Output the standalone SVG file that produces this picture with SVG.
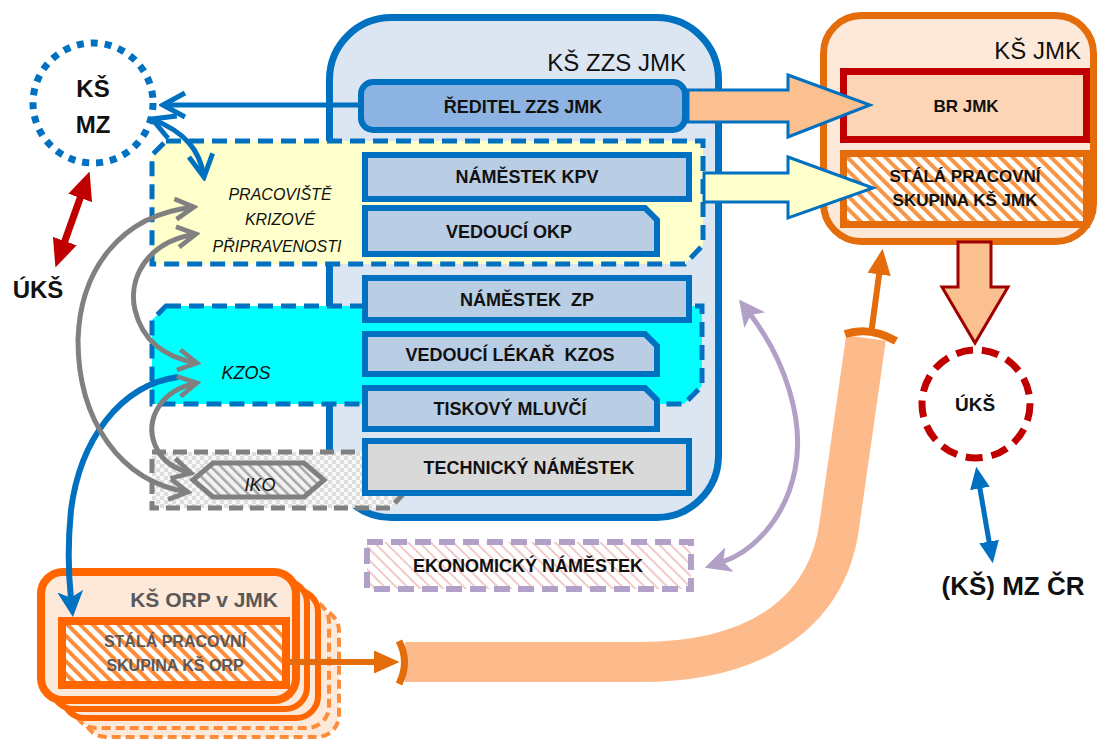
<svg xmlns="http://www.w3.org/2000/svg" width="1100" height="743" viewBox="0 0 1100 743">
<style>
.t{font-family:"Liberation Sans",Arial,sans-serif;text-anchor:middle;fill:#111;white-space:pre}
.b{font-weight:bold;font-size:18px}
.i{font-style:italic;font-size:16px}
.box{stroke:#0070C0;stroke-width:6;fill:#B9CDE5}
.bl{fill:none;stroke:#0070C0;stroke-width:5}
.gr{fill:none;stroke:#808080;stroke-width:5}
</style>
<defs>
<pattern id="hatchO" width="9" height="9" patternUnits="userSpaceOnUse" patternTransform="rotate(-45)"><rect width="9" height="9" fill="#fff"/><rect width="4" height="9" fill="#F79646"/></pattern>
<pattern id="hatchO2" width="9" height="9" patternUnits="userSpaceOnUse" patternTransform="rotate(-45)"><rect width="9" height="9" fill="#fff"/><rect width="4" height="9" fill="#FF8C3A"/></pattern>
<pattern id="hatchG" width="7" height="7" patternUnits="userSpaceOnUse" patternTransform="rotate(-45)"><rect width="7" height="7" fill="#F2F2F2"/><rect width="2.5" height="7" fill="#A6A6A6"/></pattern>
<pattern id="hatchP" width="8" height="8" patternUnits="userSpaceOnUse" patternTransform="rotate(-45)"><rect width="8" height="8" fill="#fff"/><rect width="2" height="8" fill="#F2C9C9"/></pattern>
<pattern id="check" width="8" height="8" patternUnits="userSpaceOnUse"><rect width="8" height="8" fill="#F7F7F7"/><rect width="4" height="4" fill="#DDDDDD"/><rect x="4" y="4" width="4" height="4" fill="#DDDDDD"/></pattern>
<marker id="chB" viewBox="0 0 30 30" refX="26" refY="15" markerWidth="30" markerHeight="30" markerUnits="userSpaceOnUse" orient="auto-start-reverse"><path d="M4,3 L26,15 L4,27" fill="none" stroke="#0070C0" stroke-width="5"/></marker>
<marker id="chG" viewBox="0 0 30 30" refX="26" refY="15" markerWidth="28" markerHeight="28" markerUnits="userSpaceOnUse" orient="auto-start-reverse"><path d="M6,4 L26,15 L6,26" fill="none" stroke="#808080" stroke-width="5"/></marker>
<marker id="triR" viewBox="0 0 20 20" refX="6" refY="10" markerWidth="28" markerHeight="28" markerUnits="userSpaceOnUse" orient="auto-start-reverse"><path d="M0,1 L20,10 L0,19 z" fill="#C00000"/></marker>
<marker id="triB" viewBox="0 0 20 20" refX="5" refY="10" markerWidth="22" markerHeight="22" markerUnits="userSpaceOnUse" orient="auto-start-reverse"><path d="M0,1 L20,10 L0,19 z" fill="#0070C0"/></marker>
<marker id="stB" viewBox="0 0 20 20" refX="6" refY="10" markerWidth="26" markerHeight="26" markerUnits="userSpaceOnUse" orient="auto-start-reverse"><path d="M0,0 L20,10 L0,20 L5,10 z" fill="#0070C0"/></marker>
<marker id="stL" viewBox="0 0 20 20" refX="6" refY="10" markerWidth="26" markerHeight="26" markerUnits="userSpaceOnUse" orient="auto-start-reverse"><path d="M0,0 L20,10 L0,20 L5,10 z" fill="#B2A1C7"/></marker>
<marker id="triO" viewBox="0 0 20 20" refX="5" refY="10" markerWidth="26" markerHeight="26" markerUnits="userSpaceOnUse" orient="auto"><path d="M0,1 L20,10 L0,19 z" fill="#E46C0A"/></marker>
</defs>

<rect width="1100" height="743" fill="#fff"/>

<!-- ZZS container -->
<g id="ks-zzs-jmk">
<rect x="329.5" y="17.5" width="389" height="500" rx="62" fill="#DCE6F2" stroke="#0070C0" stroke-width="7"/>
<text class="t" x="686" y="71" style="font-size:24px;text-anchor:end">KŠ ZZS JMK</text>
</g>

<g id="pracoviste-kp">
<path d="M166,141 L703,141 L703,245 L685,264 L152,264 L152,155 Z" fill="#FFFFCC" stroke="#0070C0" stroke-width="5" stroke-dasharray="15 8"/>
<text class="t i" x="280" y="200">PRACOVIŠTĚ</text>
<text class="t i" x="280" y="225">KRIZOVÉ</text>
<text class="t i" x="277" y="252">PŘIPRAVENOSTI</text>
</g>

<g id="kzos">
<path d="M166,306 L702,306 L702,386 L684,404 L152,404 L152,320 Z" fill="#00FFFF" stroke="#0070C0" stroke-width="5" stroke-dasharray="15 8"/>
<text class="t" x="246" y="379" style="font-style:italic;font-size:18px">KZOS</text>
</g>

<g id="iko">
<path d="M152,452 L405,452 L405,492 L390,508 L152,508 Z" fill="url(#check)" stroke="#808080" stroke-width="5" stroke-dasharray="14 7"/>
<path d="M193,480 L213,463 L304,463 L324,480 L304,497 L213,497 Z" fill="url(#hatchG)" stroke="#808080" stroke-width="5"/>
<text class="t" x="260" y="491" style="font-style:italic;font-size:18px">IKO</text>
</g>

<g id="reditel"><rect class="box" x="361" y="82" width="324" height="48" rx="12" fill="#8DB3E2" style="fill:#8DB3E2"/><text class="t b" x="523" y="113">ŘEDITEL ZZS JMK</text></g>
<g id="namestek-kpv"><rect class="box" x="365" y="155" width="324" height="44"/><text class="t b" x="527" y="183">NÁMĚSTEK KPV</text></g>
<g id="vedouci-okp"><path class="box" d="M365,208 L645,208 L657,220 L657,254 L365,254 Z"/><text class="t b" x="509" y="238">VEDOUCÍ OKP</text></g>
<g id="namestek-zp"><rect class="box" x="365" y="278" width="324" height="42"/><text class="t b" x="527" y="306">NÁMĚSTEK  ZP</text></g>
<g id="vedouci-lekar"><path class="box" d="M365,334 L645,334 L657,346 L657,374 L365,374 Z"/><text class="t b" x="510" y="361">VEDOUCÍ LÉKAŘ  KZOS</text></g>
<g id="tiskovy"><path class="box" d="M365,388 L645,388 L657,400 L657,429 L365,429 Z"/><text class="t b" x="510" y="415">TISKOVÝ MLUVČÍ</text></g>
<g id="technicky"><rect class="box" x="365" y="441" width="324" height="52" style="fill:#D9D9D9"/><text class="t b" x="529" y="474">TECHNICKÝ NÁMĚSTEK</text></g>
<g id="ekonomicky"><rect x="367" y="542" width="324" height="47" fill="url(#hatchP)" stroke="#B1A0C7" stroke-width="6" stroke-dasharray="16 8"/><text class="t b" x="528" y="572">EKONOMICKÝ NÁMĚSTEK</text></g>

<g id="ks-mz">
<circle cx="93" cy="103" r="60" fill="#fff" stroke="#0070C0" stroke-width="7" stroke-dasharray="7 7"/>
<text class="t" x="93" y="97" style="font-weight:bold;font-size:24px">KŠ</text>
<text class="t" x="93" y="133" style="font-weight:bold;font-size:24px">MZ</text>
</g>
<g id="uks-left"><text class="t" x="38" y="298" style="font-weight:bold;font-size:24px">ÚKŠ</text></g>

<g id="ks-jmk">
<rect x="823.5" y="15.5" width="270" height="226" rx="38" fill="#FDE9D9" stroke="#E46C0A" stroke-width="7"/>
<text class="t" x="1081" y="59" style="font-size:24px;text-anchor:end">KŠ JMK</text>
<rect x="843.5" y="71.5" width="243" height="68" fill="#FBD5B5" stroke="#C00000" stroke-width="7"/>
<text class="t b" x="966" y="112" style="font-size:17px">BR JMK</text>
<rect x="843.5" y="153.5" width="243" height="71" fill="url(#hatchO)" stroke="#E46C0A" stroke-width="7"/>
<text class="t b" x="965" y="182" style="font-size:17px">STÁLÁ PRACOVNÍ</text>
<text class="t b" x="965" y="206" style="font-size:17px">SKUPINA KŠ JMK</text>
</g>

<g id="uks-right">
<circle cx="976" cy="404" r="54" fill="#fff" stroke="#C00000" stroke-width="7" stroke-dasharray="17 9"/>
<text class="t" x="975" y="411" style="font-weight:bold;font-size:19px">ÚKŠ</text>
</g>
<g id="mz-cr"><text class="t" x="1013" y="595" style="font-weight:bold;font-size:26px">(KŠ) MZ ČR</text></g>

<g id="ks-orp">
<rect x="84" y="609" width="255" height="128" rx="22" fill="#FDE9D9" stroke="#FF8C3A" stroke-width="4" stroke-dasharray="9 5"/>
<rect x="74" y="600" width="255" height="128" rx="22" fill="#FDE9D9" stroke="#FF8C3A" stroke-width="4" stroke-dasharray="9 5"/>
<rect x="63" y="590" width="255" height="128" rx="22" fill="#FDE9D9" stroke="#FF6600" stroke-width="6"/>
<rect x="52" y="581" width="255" height="128" rx="22" fill="#FDE9D9" stroke="#FF6600" stroke-width="6"/>
<rect x="41" y="572" width="255" height="128" rx="22" fill="#FDE9D9" stroke="#FF6600" stroke-width="8"/>
<text class="t" x="278" y="607" style="font-weight:bold;font-size:21px;fill:#595959;text-anchor:end">KŠ ORP v JMK</text>
<rect x="62" y="621" width="224" height="64" fill="url(#hatchO2)" stroke="#FF6600" stroke-width="8"/>
<text class="t" x="175" y="647" style="font-weight:bold;font-size:16px;fill:#595959">STÁLÁ PRACOVNÍ</text>
<text class="t" x="175" y="671" style="font-weight:bold;font-size:16px;fill:#595959">SKUPINA KŠ ORP</text>
</g>

<g id="connectors">
<!-- big band -->
<path d="M405,662 L640,662 C760,662 830,610 840,520 L866,338" fill="none" stroke="#FDBA8A" stroke-width="40"/>
<path d="M845,334 Q870,326 896,341" fill="none" stroke="#E46C0A" stroke-width="8"/>
<path d="M871,334 L880,268" fill="none" stroke="#E46C0A" stroke-width="6" marker-end="url(#triO)"/>
<path d="M290,662 L380,662" fill="none" stroke="#E46C0A" stroke-width="6" marker-end="url(#triO)"/>
<path d="M399,641 Q410,662 399,684" fill="none" stroke="#E46C0A" stroke-width="7"/>
<!-- block arrows -->
<path d="M688,90 L788,90 L788,75 L870,105 L788,137 L788,122 L688,122 Z" fill="#FAC090" stroke="#0070C0" stroke-width="3"/>
<path d="M704,173 L788,173 L788,157 L873,188 L788,218 L788,202 L704,202 Z" fill="#FFFFCC" stroke="#0070C0" stroke-width="3"/>
<path d="M958,242 L991,242 L991,287 L1008,287 L975,343 L942,287 L958,287 Z" fill="#FAC090" stroke="#A00000" stroke-width="3"/>
<!-- blue -->
<path class="bl" d="M360,105 L163,105" marker-end="url(#chB)"/>
<path class="bl" d="M152,119 C185,132 200,150 204,177" marker-start="url(#chB)" marker-end="url(#chB)"/>
<path d="M178,377 C120,385 80,440 71,510 C67,550 69,580 71,599" fill="none" stroke="#0070C0" stroke-width="6" marker-end="url(#stB)"/>
<path d="M979,483 L990,547" fill="none" stroke="#0070C0" stroke-width="5" marker-start="url(#triB)" marker-end="url(#triB)"/>
<!-- red -->
<path d="M83,190 L62,249" fill="none" stroke="#C00000" stroke-width="7" marker-start="url(#triR)" marker-end="url(#triR)"/>
<!-- gray -->
<path class="gr" d="M194,207 C120,215 80,270 78,340 C78,420 120,482 188,492" marker-start="url(#chG)" marker-end="url(#chG)"/>
<path class="gr" d="M196,234 C145,242 128,280 135,310 C143,343 168,358 197,363" marker-start="url(#chG)" marker-end="url(#chG)"/>
<path class="gr" d="M197,383 C160,390 145,420 155,445 C162,462 175,469 191,473" marker-start="url(#chG)" marker-end="url(#chG)"/>
<!-- lavender -->
<path d="M750,314 C785,360 805,420 795,470 C785,520 752,552 722,562" fill="none" stroke="#B2A1C7" stroke-width="5" marker-start="url(#stL)" marker-end="url(#stL)"/>
</g>
</svg>
